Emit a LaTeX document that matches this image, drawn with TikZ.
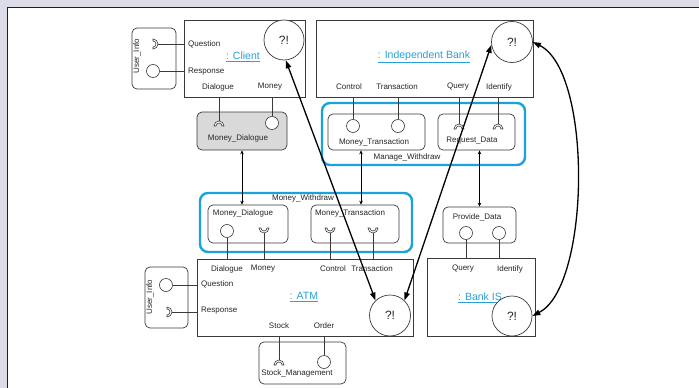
\documentclass[tikz,border=0pt]{standalone}
\usepackage{fontspec}
\setmainfont{Liberation Sans}
\usetikzlibrary{arrows.meta}

\definecolor{bglav}{HTML}{DCDCE8}
\definecolor{framecol}{HTML}{1E1E24}
\definecolor{linegray}{HTML}{3A3A3A}
\definecolor{wcyan}{HTML}{1AA3DB}
\definecolor{ttlblue}{HTML}{2A9FD8}
\definecolor{mdgray}{HTML}{D9D9D9}

\tikzset{
  wh/.style 2 args={minimum width=#1pt, minimum height=#2pt},
  part/.style={draw=linegray, line width=0.7pt, inner sep=0pt},
  comp/.style={part, rounded corners=5pt},
  wrap/.style={draw=wcyan, line width=2.4pt, rounded corners=8pt, inner sep=0pt},
  ball/.style={circle, draw=linegray, line width=0.6pt, fill=white, minimum size=13pt, inner sep=0pt},
  qcirc/.style={circle, draw=linegray, line width=0.7pt, fill=white, minimum size=40pt, inner sep=0pt,
    font=\fontsize{12}{14}\selectfont},
  wire/.style={draw=linegray, line width=0.7pt},
  port/.style={inner sep=0pt, font=\fontsize{8}{9.6}\selectfont},
  ttl/.style={inner sep=0pt, text=ttlblue, font=\fontsize{10.5}{12.6}\selectfont},
  link/.style={draw=black, line width=0.6pt, {Stealth[length=4pt,width=3.5pt]}-{Stealth[length=4pt,width=3.5pt]}},
  flow/.style={draw=black, line width=1.3pt, {Triangle[length=8pt,width=5.5pt]}-{Triangle[length=8pt,width=5.5pt]}},
  pics/sock/.style={code={
    \draw[draw=linegray, fill=white, line width=0.6pt]
      (5,-5) arc[start angle=0,end angle=180,radius=5] -- (-3,-5)
      arc[start angle=180,end angle=0,radius=3] -- cycle;}}
}

\begin{document}
\begin{tikzpicture}[x=1pt,y=-1pt,text=black!85]
\useasboundingbox (0,0) rectangle (699,388);
% page frame
\fill[bglav] (0,0) rectangle (699,388);
\fill[white] (7,7) rectangle (699,388);
\draw[framecol, line width=1pt] (7,388) -- (7,7) -- (699,7);

% ---------- parts ----------
\node[part, wh={121}{77}] (client) at (244.5,58.5) {};
\node[part, wh={217}{77}] (ib) at (424.5,58.5) {};
\node[part, wh={216}{77}] (atm) at (305,297.5) {};
\node[part, wh={108}{78}] (bis) at (481,297) {};

% ---------- components ----------
\node[comp, wh={44}{61}] (ui1) at (154,58.5) {};
\node[comp, wh={43}{61}] (ui2) at (166.5,297.5) {};
\node[comp, fill=mdgray, wh={90}{38}] (mdg) at (242,131) {};
\node[wrap, wh={203}{62}] (mgw) at (423.5,134) {};
\node[comp, wh={97}{36}] (mt) at (376.5,132) {};
\node[comp, wh={77}{36}] (rd) at (476.5,132) {};
\node[wrap, wh={212}{59}] (mwd) at (306,222.5) {};
\node[comp, wh={80}{38}] (mwdd) at (248,224) {};
\node[comp, wh={88}{38}] (mwdt) at (355,224) {};
\node[comp, wh={73}{36}] (pd) at (479.5,225) {};
\node[comp, wh={87}{42}] (sm) at (302.5,363) {};

% ---------- texts ----------
\node[ttl] (tclient) at (243,57) {\underline{: Client}};
\node[ttl] (tib) at (424,57) {\underline{: Independent Bank}};
\node[ttl] (tatm) at (304,297) {\underline{: ATM}};
\node[ttl] (tbis) at (480,298) {\underline{: Bank IS}};

\node[port, rotate=90] (tui1) at (137,56) {User\_Info};
\node[port, rotate=90] (tui2) at (150,297) {User\_Info};

\node[port, anchor=west] (tq1) at (188,44) {Question};
\node[port, anchor=west] (tr1) at (188,72) {Response};
\node[port] (tdl1) at (218,87) {Dialogue};
\node[port] (tmn1) at (270,87) {Money};

\node[port] (tct1) at (349,87) {Control};
\node[port] (ttr1) at (397,87) {Transaction};
\node[port] (tqr1) at (458,87) {Query};
\node[port] (tid1) at (499,87) {Identify};

\node[port] (tmdg) at (238,138) {Money\_Dialogue};
\node[port] (tmt) at (374,142) {Money\_Transaction};
\node[port] (trd) at (472,141) {Request\_Data};
\node[port] (tmgw) at (407,157) {Manage\_Withdraw};

\node[port] (tmwd) at (303,198) {Money\_Withdraw};
\node[port] (tmwdd) at (243,213) {Money\_Dialogue};
\node[port] (tmwdt) at (350,213) {Money\_Transaction};
\node[port] (tpd) at (477,217) {Provide\_Data};

\node[port] (tdl2) at (227,269) {Dialogue};
\node[port] (tmn2) at (263,269) {Money};
\node[port] (tct2) at (333,269) {Control};
\node[port] (ttr2) at (372,269) {Transaction};
\node[port, anchor=west] (tq2) at (201,284) {Question};
\node[port, anchor=west] (tr2) at (201,311) {Response};
\node[port] (tstk) at (279,326) {Stock};
\node[port] (tord) at (324,326) {Order};
\node[port] (tsm) at (297,373) {Stock\_Management};

\node[port] (tqr2) at (463,269) {Query};
\node[port] (tid2) at (510,269) {Identify};

% ---------- ports: balls and sockets ----------
% User_Info of the client
\coordinate (sq1) at (158,44);
\draw[wire] (sq1) -- (sq1 -| client.west);
\pic[rotate=90] at (sq1) {sock};
\node[ball] (br1) at (153,71) {};
\draw[wire] (br1.east) -- (br1 -| client.west);

% client to Money_Dialogue
\coordinate (sdl1) at (219,121);
\draw[wire] (sdl1) -- (sdl1 |- client.south);
\pic[rotate=180] at (sdl1) {sock};
\node[ball] (bmn1) at (272,123) {};
\draw[wire] (bmn1.north) -- (bmn1 |- client.south);

% bank to Manage_Withdraw
\node[ball] (bct1) at (353,126) {};
\draw[wire] (bct1.north) -- (bct1 |- ib.south);
\node[ball] (btr1) at (398,126) {};
\draw[wire] (btr1.north) -- (btr1 |- ib.south);
\coordinate (sqr1) at (459,124);
\draw[wire] (sqr1) -- (sqr1 |- ib.south);
\pic[rotate=180] at (sqr1) {sock};
\coordinate (sid1) at (498,124);
\draw[wire] (sid1) -- (sid1 |- ib.south);
\pic[rotate=180] at (sid1) {sock};

% ATM to Money_Withdraw
\node[ball] (bdl2) at (227,231) {};
\draw[wire] (bdl2.south) -- (bdl2 |- atm.north);
\coordinate (smn2) at (264,233);
\draw[wire] (smn2) -- (smn2 |- atm.north);
\pic at (smn2) {sock};
\coordinate (sct2) at (330,233);
\draw[wire] (sct2) -- (sct2 |- atm.north);
\pic at (sct2) {sock};
\coordinate (str2) at (373,233);
\draw[wire] (str2) -- (str2 |- atm.north);
\pic at (str2) {sock};

% User_Info of the ATM
\node[ball] (bq2) at (166,285) {};
\draw[wire] (bq2.east) -- (bq2 -| atm.west);
\coordinate (sr2) at (172,312);
\draw[wire] (sr2) -- (sr2 -| atm.west);
\pic[rotate=90] at (sr2) {sock};

% ATM to Stock_Management
\coordinate (sstk) at (279,360);
\draw[wire] (sstk) -- (sstk |- atm.south);
\pic[rotate=180] at (sstk) {sock};
\node[ball] (bord) at (324,362) {};
\draw[wire] (bord.north) -- (bord |- atm.south);

% Bank IS to Provide_Data
\node[ball] (bqr2) at (466,233) {};
\draw[wire] (bqr2.south) -- (bqr2 |- bis.north);
\node[ball] (bid2) at (499,233) {};
\draw[wire] (bid2.south) -- (bid2 |- bis.north);

% ---------- links between components ----------
\draw[link] (mdg.south) -- (mdg.south |- mwdd.north);
\draw[link] ([xshift=-15.5pt]mt.south) -- ([xshift=-15.5pt]mt.south |- mwdt.north);
\draw[link] (pd.north |- rd.south) -- (pd.north);

% ---------- decision circles ----------
\node[qcirc] (cq) at (284,40) {?!};
\node[qcirc, minimum size=41pt] (iq) at (512,42) {?!};
\node[qcirc, minimum size=41pt] (aq) at (390,315.5) {?!};
\node[qcirc] (bq) at (512,316) {?!};

% ---------- interactions ----------
\draw[flow] (cq.-85) -- (aq.134);
\draw[flow] (iq.188) -- (aq.46);
\draw[flow] (iq.east) .. controls +(60,30) and +(58,-30) .. (bq.east);
\end{tikzpicture}
\end{document}
